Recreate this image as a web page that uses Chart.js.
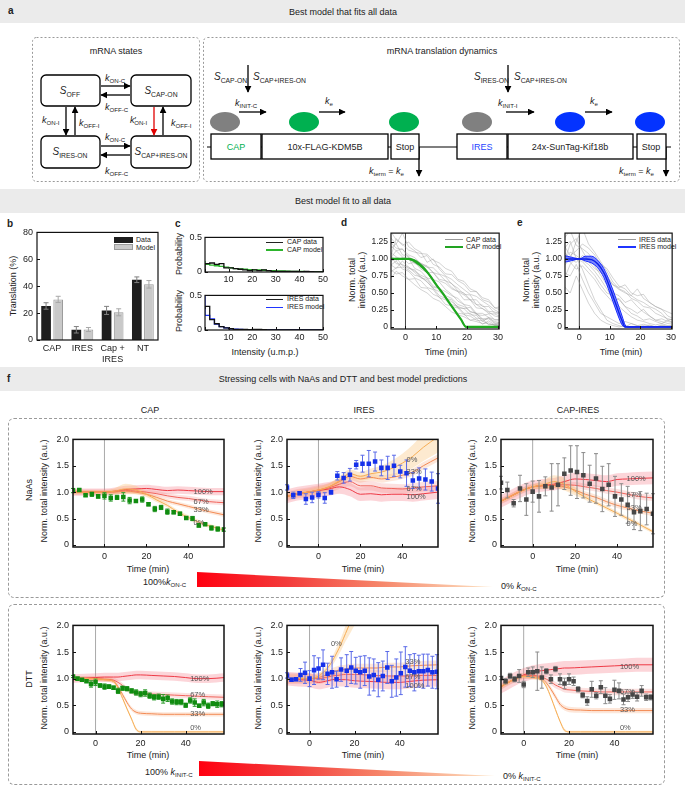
<!DOCTYPE html>
<html><head><meta charset="utf-8">
<script src="https://cdn.jsdelivr.net/npm/chart.js@4.4.1/dist/chart.umd.min.js"></script>
<style>
html,body{margin:0;padding:0}
body{width:685px;height:786px;position:relative;overflow:hidden;background:#fff;font-family:"Liberation Sans",Arial,sans-serif;font-size:9px;color:#222}
.t{position:absolute;white-space:nowrap;line-height:1.15}
.t sub{font-size:0.68em;vertical-align:-0.35em;line-height:0}
.hdr{position:absolute;left:0;width:685px;background:#ebebeb}
.dash{position:absolute;border:1px dashed #9a9a9a;border-radius:6px;box-sizing:border-box}
.wedge{position:absolute;background:linear-gradient(to right,#ff0010 0%,#f33a3a 30%,#f6866a 62%,#fde4c4 100%);clip-path:polygon(0 0,100% 100%,0 100%)}
.lg{position:absolute}
</style></head><body>
<div class="hdr" style="top:0;height:23px"></div>
<div class="hdr" style="top:189px;height:24px"></div>
<div class="hdr" style="top:367px;height:24px"></div>
<div class="dash" style="left:8px;top:418px;width:657px;height:180px"></div>
<div class="dash" style="left:8px;top:604px;width:657px;height:181px"></div>
<div class="wedge" style="left:197px;top:572px;width:296px;height:15px"></div>
<div class="wedge" style="left:199px;top:761px;width:296px;height:15px"></div>
<svg width="685" height="190" style="position:absolute;left:0;top:0" xmlns="http://www.w3.org/2000/svg">
<defs>
<marker id="ah" viewBox="0 0 10 10" refX="9" refY="5" markerWidth="7" markerHeight="7" orient="auto" markerUnits="userSpaceOnUse"><path d="M0,0 L10,5 L0,10 z" fill="#000"/></marker>
<marker id="ahr" viewBox="0 0 10 10" refX="9" refY="5" markerWidth="7" markerHeight="7" orient="auto" markerUnits="userSpaceOnUse"><path d="M0,0 L10,5 L0,10 z" fill="#e00000"/></marker>
</defs>
<rect x="32.5" y="37.5" width="167" height="144" rx="4" fill="none" stroke="#9a9a9a" stroke-dasharray="2,2"/>
<rect x="203.5" y="37.5" width="476" height="144" rx="4" fill="none" stroke="#9a9a9a" stroke-dasharray="2,2"/>
<g fill="none" stroke="#000" stroke-width="1.3">
<rect x="41" y="75" width="59" height="31" rx="5"/>
<rect x="131" y="75" width="60" height="31" rx="5"/>
<rect x="41" y="136" width="59" height="32" rx="5"/>
<rect x="131" y="136" width="60" height="32" rx="5"/>
</g>
<g stroke="#000" stroke-width="1.3" marker-end="url(#ah)">
<line x1="101" y1="86" x2="130" y2="86"/>
<line x1="130" y1="95" x2="101" y2="95"/>
<line x1="101" y1="146" x2="130" y2="146"/>
<line x1="130" y1="155" x2="101" y2="155"/>
<line x1="66" y1="107" x2="66" y2="135"/>
<line x1="75" y1="135" x2="75" y2="107"/>
<line x1="163" y1="135" x2="163" y2="107"/>
<line x1="248" y1="65" x2="248" y2="92"/>
<line x1="508" y1="65" x2="508" y2="92"/>
<line x1="239" y1="112" x2="266" y2="112"/>
<line x1="319" y1="112" x2="345" y2="112"/>
<line x1="506" y1="112" x2="534" y2="112"/>
<line x1="585" y1="112" x2="612" y2="112"/>
<line x1="419" y1="147" x2="419" y2="176"/>
<line x1="666" y1="147" x2="666" y2="176"/>
</g>
<line x1="154" y1="107" x2="154" y2="135" stroke="#e00000" stroke-width="1.3" marker-end="url(#ahr)"/>
<line x1="207" y1="147" x2="671" y2="147" stroke="#000" stroke-width="1.2"/>
<g fill="#fff" stroke="#000" stroke-width="1.3">
<rect x="211" y="134" width="50" height="25"/>
<rect x="262" y="134" width="126" height="25"/>
<rect x="391" y="134" width="28" height="25"/>
<rect x="457" y="134" width="50" height="25"/>
<rect x="508" y="134" width="125" height="25"/>
<rect x="637" y="134" width="29" height="25"/>
</g>
<ellipse cx="225" cy="122" rx="15" ry="10" fill="#808080"/>
<ellipse cx="304" cy="122" rx="15" ry="10" fill="#00b050"/>
<ellipse cx="404" cy="122" rx="15" ry="10" fill="#00b050"/>
<ellipse cx="477" cy="122" rx="15" ry="10" fill="#808080"/>
<ellipse cx="570" cy="122" rx="15" ry="10" fill="#0433ff"/>
<ellipse cx="650" cy="122" rx="15" ry="10" fill="#0433ff"/>
</svg>
<script>
// ---------------- DATA ----------------
// b: translation percentages
const bCats = ['CAP', 'IRES', ['Cap +', 'IRES'], 'NT'];
const bData = [25.3, 7.6, 22.0, 44.8];
const bDataErr = [2.4, 2.4, 3.0, 2.1];
const bModel = [30.2, 7.8, 20.6, 41.4];
const bModelErr = [2.3, 1.5, 2.6, 2.8];

// c: intensity histograms (bin edges, probabilities per bin)
const cEdges = [0,2,4,6,8,10,12,14,16,18,20,22,24,26,28,30,32,34,36,38,40,42,44,46,48,50];
const capHistData = [0.04,0.12,0.13,0.11,0.12,0.06,0.06,0.05,0.04,0.03,0.02,0.03,0.02,0.03,0.02,0.01,0.01,0.01,0.01,0.01,0.01,0.005,0.01,0.005,0.0];
const capHistModel = [0.16,0.11,0.10,0.09,0.08,0.07,0.06,0.05,0.045,0.04,0.035,0.03,0.03,0.025,0.02,0.02,0.015,0.015,0.012,0.01,0.01,0.008,0.006,0.005,0.004];
const iresHistData = [0.30,0.34,0.15,0.09,0.05,0.03,0.02,0.01,0.01,0.01,0.005,0.01,0.01,0.005,0,0,0,0,0,0,0,0,0,0,0];
const iresHistModel = [0.50,0.21,0.16,0.085,0.05,0.03,0.018,0.012,0.008,0.006,0.005,0.004,0.003,0.002,0.002,0.001,0.001,0.001,0,0,0,0,0,0,0];

// d, e: single-mRNA traces (time points and normalized intensities)
const trX = [-5,-3,-1,1,3,5,7,9,11,13,15,17,19,21,23,25,27,29,31];
const capTraces = [
 [1.05,0.98,1.02,0.93,0.95,0.85,0.80,0.70,0.66,0.55,0.48,0.38,0.33,0.22,0.20,0.12,0.13,0.08,0.06],
 [1.20,1.12,1.15,1.02,0.98,0.92,0.88,0.80,0.70,0.68,0.58,0.52,0.47,0.40,0.33,0.27,0.22,0.16,0.14],
 [0.90,0.97,0.85,0.82,0.72,0.68,0.58,0.55,0.43,0.40,0.30,0.28,0.18,0.16,0.10,0.09,0.04,0.03,0.02],
 [1.32,1.22,1.38,1.18,1.12,1.02,1.05,0.92,0.88,0.78,0.77,0.68,0.63,0.52,0.52,0.40,0.37,0.28,0.25],
 [0.95,1.02,0.90,0.88,0.80,0.72,0.70,0.58,0.57,0.42,0.40,0.28,0.27,0.29,0.18,0.17,0.19,0.10,0.12],
 [1.10,1.03,0.99,1.01,0.86,0.82,0.72,0.70,0.56,0.52,0.46,0.42,0.33,0.31,0.20,0.20,0.14,0.11,0.09],
 [0.85,0.78,0.80,0.70,0.71,0.58,0.57,0.48,0.44,0.33,0.31,0.20,0.19,0.10,0.12,0.04,0.09,0.03,0.05],
 [1.00,1.12,1.03,1.00,0.93,0.92,0.80,0.80,0.68,0.64,0.56,0.52,0.40,0.40,0.28,0.27,0.20,0.19,0.15],
 [1.15,1.22,1.06,1.04,0.96,0.94,0.88,0.87,0.78,0.74,0.63,0.57,0.48,0.47,0.33,0.32,0.23,0.22,0.18],
 [0.92,0.86,0.97,0.88,0.82,0.76,0.72,0.60,0.57,0.46,0.42,0.33,0.30,0.23,0.20,0.10,0.12,0.05,0.07],
 [1.42,1.28,1.22,1.13,1.10,1.08,1.07,0.98,0.94,0.86,0.82,0.70,0.67,0.56,0.52,0.43,0.40,0.28,0.30],
 [1.05,0.93,0.92,0.86,0.84,0.73,0.67,0.56,0.52,0.43,0.37,0.30,0.27,0.18,0.17,0.08,0.14,0.06,0.04],
 [0.80,0.87,0.88,0.84,0.76,0.74,0.66,0.57,0.46,0.42,0.33,0.30,0.20,0.20,0.13,0.12,0.03,0.04,0.01],
 [1.25,1.16,1.14,1.06,1.02,0.93,0.90,0.80,0.77,0.68,0.64,0.53,0.50,0.40,0.40,0.30,0.30,0.20,0.22],
 [1.00,1.30,1.20,1.25,1.15,1.10,0.95,1.00,0.85,0.75,0.70,0.62,0.55,0.48,0.45,0.38,0.32,0.25,0.20],
 [0.70,0.82,0.75,0.70,0.62,0.55,0.50,0.42,0.38,0.30,0.22,0.18,0.15,0.10,0.08,0.05,0.06,0.02,0.03]
];
const iresTraces = [
 [1.00,1.10,1.05,0.98,0.92,0.82,0.70,0.56,0.42,0.30,0.22,0.15,0.10,0.08,0.05,0.03,0.05,0.02,0.02],
 [1.30,1.42,1.20,1.15,1.08,0.96,0.86,0.72,0.62,0.55,0.50,0.46,0.56,0.42,0.36,0.30,0.26,0.22,0.18],
 [0.70,0.92,1.02,0.85,0.62,0.40,0.25,0.10,0.05,0.02,0.00,0.05,0.02,0.00,0.03,0.00,0.02,0.00,0.01],
 [1.10,1.00,0.95,1.05,1.00,0.90,0.76,0.62,0.50,0.46,0.36,0.40,0.30,0.22,0.16,0.10,0.12,0.08,0.06],
 [0.95,1.22,1.30,1.12,0.96,0.86,0.80,0.76,0.62,0.58,0.62,0.50,0.46,0.48,0.36,0.30,0.26,0.16,0.12],
 [0.80,0.75,0.92,0.70,0.50,0.35,0.20,0.15,0.10,0.05,0.08,0.05,0.02,0.04,0.02,0.00,0.03,0.01,0.02],
 [1.20,1.05,1.12,1.22,1.16,1.06,0.92,0.86,0.72,0.60,0.56,0.46,0.40,0.36,0.30,0.26,0.20,0.10,0.12],
 [1.05,0.95,0.85,0.90,0.80,0.70,0.56,0.46,0.36,0.42,0.30,0.26,0.20,0.26,0.16,0.10,0.08,0.05,0.04],
 [0.90,1.00,1.26,1.45,1.22,1.10,0.96,0.82,0.66,0.56,0.52,0.42,0.38,0.30,0.28,0.20,0.16,0.12,0.10],
 [1.15,1.26,1.00,0.96,0.86,0.76,0.62,0.50,0.46,0.40,0.30,0.20,0.16,0.10,0.12,0.08,0.05,0.10,0.06],
 [0.60,0.50,0.75,0.55,0.35,0.20,0.10,0.05,0.02,0.00,0.02,0.00,0.00,0.02,0.00,0.00,0.01,0.00,0.00]
];
// d: CAP model (center and band half width)
const gX = [-5,-4,-2,0,1,2,3,4,5,6,7,8,10,12,14,16,18,19.7,22,26,31];
const gY = [1,1,1,1,1,0.99,0.97,0.94,0.90,0.86,0.81,0.75,0.62,0.50,0.37,0.24,0.11,0,0,0,0];
const gH = [0.005,0.005,0.005,0.005,0.01,0.015,0.025,0.03,0.03,0.03,0.025,0.02,0.015,0.012,0.01,0.01,0.01,0.005,0.005,0.005,0.005];
// e: IRES model (upper, middle, lower curves)
const bX = [-5,-4,-2,0,2,4,6,8,10,12,14,15,16,20,25,31];
const bUp = [1.05,1.04,1.02,1.00,1.04,1.04,0.98,0.86,0.66,0.42,0.16,0.03,0,0,0,0];
const bMid = [1.00,1.00,1.00,1.00,1.00,0.99,0.93,0.80,0.58,0.33,0.09,0,0,0,0,0];
const bLo = [0.95,0.96,0.98,1.00,0.97,0.94,0.87,0.73,0.50,0.25,0.03,0,0,0,0,0];

// f: model prediction grids
const fx1 = [-15,-10,-5,0,5,10,15,20,25,30,35,40,45,50,57];
const fx2 = [-10,-5,0,4,8,10,12,14,16,18,20,25,30,35,40,45,50,57];
const pctLabels = ['100%','67%','33%','0%'];
// NaAs CAP
const na1_100 = [1.00,1.00,1.00,1.00,1.02,1.05,1.06,1.07,1.05,1.03,1.04,1.03,1.02,1.01,1.01];
const na1_67 = [1.00,1.00,1.00,1.00,1.01,1.03,1.02,1.00,0.97,0.93,0.90,0.88,0.85,0.82,0.80];
const na1_33 = [1.00,1.00,1.00,1.00,1.00,1.02,1.00,0.96,0.90,0.83,0.78,0.73,0.68,0.63,0.57];
const na1_0 = [1.00,1.00,1.00,1.00,1.02,1.06,1.04,0.96,0.85,0.75,0.62,0.52,0.43,0.36,0.28];
const na1_h = [[0.07,0.07,0.07,0.07,0.07,0.07,0.07,0.07,0.07,0.07,0.07,0.07,0.07,0.07,0.07],
 [0.05,0.05,0.05,0.05,0.05,0.05,0.05,0.05,0.05,0.05,0.05,0.05,0.05,0.05,0.05],
 [0.04,0.04,0.04,0.04,0.04,0.04,0.04,0.04,0.04,0.04,0.04,0.04,0.04,0.04,0.04],
 [0.03,0.03,0.03,0.03,0.06,0.10,0.08,0.05,0.04,0.04,0.04,0.04,0.04,0.04,0.04]];
const naCapX = [-15,-12,-9,-6,-3,0,3,6,9,12,15,18,21,24,27,30,33,36,39,42,45,48,51,54,57];
const naCapY = [1.03,1.04,0.94,0.96,0.92,0.93,0.89,0.90,0.91,0.84,0.83,0.86,0.77,0.68,0.71,0.63,0.62,0.59,0.51,0.50,0.37,0.39,0.32,0.30,0.29];
const naCapE = [0.04,0.02,0.02,0.04,0.03,0.06,0.06,0.04,0.08,0.06,0.02,0.05,0.03,0.05,0.04,0.05,0.03,0.03,0.02,0.04,0.03,0.02,0.04,0.04,0.03];
const naCapLab = [[42.5,1.00],[42.5,0.81],[42.5,0.66],[42.5,0.42]];
// NaAs IRES
const na2_100 = [0.92,0.97,1.00,1.03,1.06,1.10,1.05,0.96,0.97,0.95,0.96,0.96,0.95,0.97,1.00];
const na2_67 = [0.92,0.97,1.00,1.04,1.08,1.15,1.20,1.12,1.12,1.08,1.07,1.06,1.08,1.10,1.12];
const na2_33 = [0.92,0.97,1.00,1.04,1.10,1.20,1.30,1.25,1.28,1.25,1.28,1.32,1.38,1.50,1.65];
const na2_0 = [0.92,0.97,1.00,1.04,1.10,1.22,1.35,1.30,1.35,1.38,1.45,1.55,1.68,1.85,2.05];
const na2_h = [[0.13,0.13,0.13,0.13,0.13,0.13,0.13,0.13,0.13,0.13,0.13,0.13,0.13,0.13,0.13],
 [0.09,0.09,0.09,0.09,0.09,0.09,0.09,0.09,0.09,0.09,0.09,0.09,0.09,0.09,0.09],
 [0.07,0.07,0.07,0.07,0.07,0.07,0.07,0.07,0.07,0.07,0.07,0.07,0.07,0.07,0.07],
 [0.04,0.04,0.04,0.05,0.06,0.08,0.08,0.08,0.10,0.12,0.15,0.18,0.22,0.26,0.30]];
const naIresX = [-15,-12,-9,-6,-3,0,3,6,9,12,15,18,21,24,27,30,33,36,39,42,45,48,51,54,57];
const naIresY = [1.09,0.94,0.98,0.87,0.90,0.95,0.89,1.00,1.31,1.27,1.33,1.52,1.54,1.54,1.58,1.46,1.46,1.50,1.39,1.36,1.22,1.26,1.24,1.20,1.07];
const naIresE = [0.05,0.06,0.03,0.10,0.10,0.06,0.10,0.04,0.08,0.10,0.12,0.08,0.16,0.25,0.18,0.15,0.22,0.20,0.12,0.25,0.15,0.20,0.20,0.18,0.28];
const naIresLab = [[42,0.90],[42,1.06],[42,1.39],[42,1.61]];
// NaAs CAP-IRES
const na3_100 = [0.83,0.93,1.03,1.10,1.13,1.15,1.20,1.25,1.24,1.22,1.20,1.24,1.25,1.26,1.27];
const na3_67 = [0.83,0.93,1.03,1.10,1.12,1.13,1.14,1.13,1.10,1.07,1.03,1.00,0.96,0.92,0.89];
const na3_33 = [0.83,0.93,1.03,1.10,1.12,1.13,1.10,1.04,0.96,0.90,0.82,0.75,0.70,0.65,0.60];
const na3_0 = [0.83,0.93,1.03,1.10,1.14,1.20,1.15,1.02,0.90,0.80,0.70,0.60,0.50,0.40,0.25];
const na3_h = [[0.12,0.12,0.12,0.12,0.12,0.12,0.12,0.12,0.12,0.12,0.12,0.12,0.12,0.12,0.12],
 [0.06,0.06,0.06,0.06,0.06,0.06,0.06,0.06,0.06,0.06,0.06,0.06,0.06,0.06,0.06],
 [0.05,0.05,0.05,0.05,0.05,0.05,0.05,0.05,0.05,0.05,0.05,0.05,0.05,0.05,0.05],
 [0.03,0.03,0.03,0.04,0.08,0.12,0.12,0.08,0.05,0.04,0.04,0.04,0.04,0.04,0.03]];
const naCiX = [-15,-12,-9,-6,-3,0,3,6,9,12,15,18,21,24,27,30,33,36,39,42,45,48,51,54,57];
const naCiY = [1.18,1.04,0.79,1.07,0.86,1.01,0.92,1.11,1.09,1.14,1.35,1.41,1.38,1.32,1.16,1.26,1.06,1.14,0.92,0.86,0.76,0.62,0.64,0.68,0.59];
const naCiE = [0.12,0.15,0.07,0.25,0.30,0.20,0.30,0.18,0.45,0.40,0.30,0.47,0.50,0.43,0.35,0.47,0.43,0.40,0.38,0.30,0.35,0.33,0.37,0.30,0.38];
const naCiLab = [[44.5,1.25],[44.5,0.95],[44.5,0.70],[44.5,0.40]];
// DTT CAP
const dt1_100 = [1.00,1.01,1.02,1.03,1.03,1.03,1.04,1.05,1.06,1.07,1.07,1.06,1.05,1.04,1.02,1.00,1.00,1.02];
const dt1_67 = [1.00,1.00,1.00,0.99,0.97,0.93,0.87,0.80,0.76,0.73,0.72,0.71,0.70,0.69,0.68,0.67,0.66,0.65];
const dt1_33 = [1.00,1.00,1.00,0.98,0.95,0.85,0.70,0.55,0.43,0.37,0.35,0.34,0.33,0.33,0.33,0.33,0.33,0.33];
const dt1_0 = [1.00,1.00,1.00,0.98,0.95,0.82,0.63,0.43,0.24,0.05,0.00,0.00,0.00,0.00,0.00,0.00,0.00,0.00];
const dt1_h = [[0.08,0.08,0.08,0.08,0.08,0.08,0.08,0.08,0.08,0.08,0.08,0.08,0.08,0.08,0.08,0.08,0.08,0.08],
 [0.05,0.05,0.05,0.05,0.05,0.05,0.05,0.05,0.05,0.05,0.05,0.05,0.05,0.05,0.05,0.05,0.05,0.05],
 [0.04,0.04,0.04,0.04,0.04,0.04,0.04,0.04,0.04,0.04,0.04,0.04,0.04,0.04,0.04,0.04,0.04,0.04],
 [0.03,0.03,0.03,0.03,0.03,0.03,0.03,0.03,0.03,0.03,0.02,0.02,0.02,0.02,0.02,0.02,0.02,0.02]];
const dtCapX = [-10,-8,-6,-4,-2,0,2,4,6,8,10,12,14,16,18,20,22,24,26,28,30,32,34,36,38,40,42,44,46,48,50,52,54,56];
const dtCapY = [1.04,1.00,0.98,0.95,0.90,0.93,0.87,0.85,0.85,0.83,0.77,0.82,0.81,0.77,0.74,0.71,0.73,0.68,0.65,0.66,0.62,0.63,0.57,0.56,0.56,0.50,0.59,0.55,0.49,0.55,0.49,0.53,0.52,0.52];
const dtCapE = [0.02,0.02,0.02,0.02,0.06,0.06,0.03,0.05,0.03,0.03,0.05,0.04,0.04,0.04,0.05,0.05,0.06,0.05,0.05,0.05,0.08,0.06,0.05,0.05,0.05,0.04,0.05,0.07,0.03,0.06,0.05,0.04,0.06,0.05];
const dtCapLab = [[42,0.99],[42,0.69],[42,0.34],[42,0.08]];
// DTT IRES
const dt2_100 = [1.00,0.98,0.97,0.93,0.96,0.98,0.99,0.98,0.98,0.97,0.96,0.95,0.94,0.93,0.93,0.95,0.97,0.98];
const dt2_67 = [1.00,1.00,1.00,1.00,1.03,1.05,1.06,1.07,1.08,1.08,1.08,1.07,1.06,1.05,1.05,1.05,1.06,1.06];
const dt2_33 = [1.00,1.00,1.00,1.02,1.08,1.12,1.15,1.17,1.18,1.20,1.20,1.20,1.20,1.22,1.22,1.24,1.25,1.26];
const dt2_0 = [1.00,1.00,1.00,1.05,1.20,1.32,1.48,1.65,1.85,2.05,2.25,2.50,2.50,2.50,2.50,2.50,2.50,2.50];
const dt2_h = [[0.13,0.13,0.13,0.13,0.13,0.13,0.13,0.13,0.13,0.13,0.13,0.13,0.13,0.13,0.13,0.13,0.13,0.13],
 [0.10,0.10,0.10,0.10,0.10,0.10,0.10,0.10,0.10,0.10,0.10,0.10,0.10,0.10,0.10,0.10,0.10,0.10],
 [0.08,0.08,0.08,0.08,0.08,0.08,0.08,0.08,0.08,0.08,0.08,0.08,0.08,0.08,0.08,0.08,0.08,0.08],
 [0.03,0.03,0.03,0.04,0.06,0.08,0.10,0.12,0.15,0.20,0.25,0.25,0.25,0.25,0.25,0.25,0.25,0.25]];
const dtIresX = [-10,-8,-6,-4,-2,0,2,4,6,8,10,12,14,16.5,18.5,20.5,22.5,24.5,26.5,28.5,30.5,32.5,34.5,36.5,38.5,40.5,42.5,44.5,46.5,48.5,50.5,52.5,54.5,56.5];
const dtIresY = [1.06,0.98,0.99,1.07,1.11,1.00,1.16,1.19,1.26,1.09,1.12,0.99,1.17,1.15,1.21,1.15,1.12,1.15,1.04,1.07,0.98,1.05,1.21,0.95,1.02,1.10,1.22,1.15,1.12,1.14,1.14,1.16,1.12,1.13];
const dtIresE = [0.05,0.03,0.03,0.12,0.20,0.15,0.27,0.20,0.28,0.20,0.30,0.15,0.22,0.30,0.30,0.25,0.30,0.28,0.35,0.30,0.32,0.28,0.30,0.30,0.35,0.40,0.38,0.30,0.35,0.30,0.32,0.30,0.30,0.32];
const dtIresLab = [[42.5,0.87],[42.5,1.04],[42.5,1.31],[9.5,1.65]];
// DTT CAP-IRES
const dt3_100 = [0.85,0.97,1.07,1.12,1.15,1.16,1.17,1.18,1.19,1.20,1.20,1.21,1.22,1.23,1.24,1.25,1.26,1.26];
const dt3_67 = [0.85,0.97,1.05,1.06,1.03,0.99,0.94,0.88,0.84,0.80,0.79,0.77,0.76,0.75,0.75,0.75,0.75,0.75];
const dt3_33 = [0.85,0.97,1.05,1.04,1.00,0.92,0.80,0.66,0.52,0.45,0.42,0.41,0.40,0.40,0.40,0.40,0.40,0.40];
const dt3_0 = [0.85,0.97,1.04,1.02,0.97,0.85,0.65,0.42,0.20,0.03,0.00,0.00,0.00,0.00,0.00,0.00,0.00,0.00];
const dt3_h = [[0.13,0.13,0.13,0.13,0.13,0.13,0.13,0.13,0.13,0.13,0.13,0.13,0.13,0.13,0.13,0.13,0.13,0.13],
 [0.06,0.06,0.06,0.06,0.06,0.06,0.06,0.06,0.06,0.06,0.06,0.06,0.06,0.06,0.06,0.06,0.06,0.06],
 [0.05,0.05,0.05,0.05,0.05,0.05,0.05,0.05,0.05,0.05,0.05,0.05,0.05,0.05,0.05,0.05,0.05,0.05],
 [0.03,0.03,0.03,0.03,0.03,0.03,0.03,0.03,0.03,0.03,0.02,0.02,0.02,0.02,0.02,0.02,0.02,0.02]];
const dtCiX = [-10,-8,-6,-4,-2,0,2,4,6,8,10,12,14,16,18,20,22,24,26,28,30,32,34,36,38,40,42,44,46,48,50,52,54,56];
const dtCiY = [1.01,0.95,1.05,0.99,1.05,0.89,1.12,1.12,1.14,1.02,1.14,0.99,1.18,0.99,0.91,0.99,0.95,0.80,0.69,0.58,0.80,0.68,0.84,0.68,0.62,0.79,0.77,0.61,0.65,0.70,0.66,0.77,0.65,0.65];
const dtCiE = [0.03,0.05,0.05,0.05,0.12,0.06,0.08,0.10,0.36,0.20,0.05,0.08,0.05,0.10,0.10,0.10,0.08,0.05,0.05,0.08,0.15,0.06,0.12,0.15,0.08,0.18,0.15,0.10,0.08,0.07,0.08,0.10,0.06,0.05];
const dtCiLab = [[42.4,1.22],[42.4,0.75],[42.4,0.41],[42.4,0.08]];

// ---------------- TEXT HELPERS ----------------
function T(x, y, h, o) {
  o = o || {};
  const d = document.createElement('div'); d.className = 't'; d.innerHTML = h;
  const a = o.a || 'c'; const tx = a === 'c' ? '-50%' : (a === 'r' ? '-100%' : '0');
  d.style.left = x + 'px'; d.style.top = y + 'px';
  d.style.transform = 'translate(' + tx + ',-50%)' + (o.rot ? ' rotate(-90deg)' : '');
  if (o.fs) d.style.fontSize = o.fs + 'px';
  if (o.c) d.style.color = o.c;
  if (o.b) d.style.fontWeight = 'bold';
  if (o.ta) d.style.textAlign = o.ta;
  document.body.appendChild(d);
}
function box(l, t, w, h, bg, br) {
  const d = document.createElement('div'); d.className = 'lg';
  d.style.cssText = 'position:absolute;left:' + l + 'px;top:' + t + 'px;width:' + w + 'px;height:' + h + 'px;background:' + bg + ';' + (br ? 'box-sizing:border-box;border:1px solid ' + br : '');
  document.body.appendChild(d);
}
const S = (b, s) => '<i>' + b + '</i><sub>' + s + '</sub>';

// headers and panel letters
T(8, 11, 'a', {a: 'l', b: true, fs: 10});
T(343, 12, 'Best model that fits all data');
T(343, 201, 'Best model fit to all data');
T(343, 379, 'Stressing cells with NaAs and DTT and best model predictions');
T(7, 224, 'b', {a: 'l', b: true, fs: 10});
T(175, 224, 'c', {a: 'l', b: true, fs: 10});
T(341, 223, 'd', {a: 'l', b: true, fs: 10});
T(517, 223, 'e', {a: 'l', b: true, fs: 10});
T(7, 379, 'f', {a: 'l', b: true, fs: 10});

// schematic text
T(116, 51, 'mRNA states');
T(70, 91, S('S', 'OFF'), {fs: 10});
T(161, 91, S('S', 'CAP-ON'), {fs: 10});
T(70, 152, S('S', 'IRES-ON'), {fs: 10});
T(161, 152, S('S', 'CAP+IRES-ON'), {fs: 10});
T(105, 78, S('k', 'ON-C'), {a: 'l'});
T(105, 107, S('k', 'OFF-C'), {a: 'l'});
T(105, 137, S('k', 'ON-C'), {a: 'l'});
T(105, 171, S('k', 'OFF-C'), {a: 'l'});
T(42, 120, S('k', 'ON-I'), {a: 'l'});
T(79, 123, S('k', 'OFF-I'), {a: 'l'});
T(130, 120, '<i>k</i>\u2032<sub style="margin-left:-2px">ON-I</sub>', {a: 'l'});
T(171, 123, S('k', 'OFF-I'), {a: 'l'});
T(442, 51, 'mRNA translation dynamics');
T(214, 77, S('S', 'CAP-ON'), {a: 'l', fs: 10});
T(253, 77, S('S', 'CAP+IRES-ON'), {a: 'l', fs: 10});
T(474, 77, S('S', 'IRES-ON'), {a: 'l', fs: 10});
T(514, 77, S('S', 'CAP+IRES-ON'), {a: 'l', fs: 10});
T(235, 103, S('k', 'INIT-C'), {a: 'l'});
T(325, 101, S('k', 'e'), {a: 'l'});
T(498, 103, S('k', 'INIT-I'), {a: 'l'});
T(590, 101, S('k', 'e'), {a: 'l'});
T(236, 147, 'CAP', {c: '#00b050'});
T(325, 147, '10x-FLAG-KDM5B');
T(405, 147, 'Stop');
T(482, 147, 'IRES', {c: '#1f45ff'});
T(570, 147, '24x-SunTag-Kif18b');
T(651, 147, 'Stop');
T(369, 171, S('k', 'term') + ' = ' + S('k', 'e'), {a: 'l'});
T(619, 171, S('k', 'term') + ' = ' + S('k', 'e'), {a: 'l'});

// b/c/d/e text
T(13, 286, 'Translation (%)', {rot: true});
box(114, 237, 19, 6, '#1e1e1e');
box(114, 244, 19, 6, '#c9c9c9', '#9b9b9b');
T(136, 240, 'Data', {a: 'l', fs: 7});
T(136, 248, 'Model', {a: 'l', fs: 7});
T(179, 254, 'Probability', {rot: true});
T(179, 311, 'Probability', {rot: true});
box(266, 241.5, 17, 1.5, '#222');
box(266, 249, 17, 1.5, '#2db52d');
T(287, 242, 'CAP data', {a: 'l', fs: 7});
T(287, 250, 'CAP model', {a: 'l', fs: 7});
box(266, 298.5, 17, 1.5, '#222');
box(266, 306.5, 17, 1.5, '#1f35ff');
T(287, 299, 'IRES data', {a: 'l', fs: 7});
T(287, 307, 'IRES model', {a: 'l', fs: 7});
T(265, 352, 'Intensity (u.m.p.)');
T(357, 280, 'Norm. total<br>intensity (a.u.)', {rot: true, ta: 'center'});
T(531, 280, 'Norm. total<br>intensity (a.u.)', {rot: true, ta: 'center'});
box(445, 239, 18, 0.8, '#9a9a9a');
box(445, 245.5, 18, 2.5, '#22a322');
T(466, 240, 'CAP data', {a: 'l', fs: 7});
T(466, 247, 'CAP model', {a: 'l', fs: 7});
box(618, 239, 18, 0.8, '#9a9a9a');
box(618, 245.5, 18, 2.5, '#1f35ff');
T(639, 240, 'IRES data', {a: 'l', fs: 7});
T(639, 247, 'IRES model', {a: 'l', fs: 7});
T(446, 352, 'Time (min)');
T(621, 352, 'Time (min)');

// f text
T(150, 410, 'CAP'); T(364, 410, 'IRES'); T(578, 410, 'CAP-IRES');
T(29, 490, 'NaAs', {rot: true});
T(29, 679, 'DTT', {rot: true});
[44, 258, 472].forEach(x => { T(x, 491, 'Norm. total intensity (a.u.)', {rot: true}); T(x, 678, 'Norm. total intensity (a.u.)', {rot: true}); });
[148, 363, 577].forEach(x => { T(x, 569, 'Time (min)'); T(x, 755, 'Time (min)'); });
T(143, 582, '100%' + S('k', 'ON-C'), {a: 'l'});
T(501, 586, '0% ' + S('k', 'ON-C'), {a: 'l'});
T(145, 772, '100% ' + S('k', 'INIT-C'), {a: 'l'});
T(503, 776, '0% ' + S('k', 'INIT-C'), {a: 'l'});

// ---------------- CHART HELPERS ----------------
Chart.defaults.font.family = "'Liberation Sans', Arial, sans-serif";
Chart.defaults.font.size = 9;
Chart.defaults.color = '#222';

function drawErr(chart, ds, meta) {
  const ctx = chart.ctx, ys = chart.scales.y;
  ctx.save(); ctx.strokeStyle = ds.errColor; ctx.lineWidth = ds.errWidth || 1;
  meta.data.forEach((el, j) => {
    const d = ds.data[j]; const v = (typeof d === 'object') ? d.y : d; const e = ds.errs[j];
    const y1 = ys.getPixelForValue(v + e), y2 = ys.getPixelForValue(v - e); const cw = ds.capW || 2;
    ctx.beginPath(); ctx.moveTo(el.x, y1); ctx.lineTo(el.x, y2);
    ctx.moveTo(el.x - cw, y1); ctx.lineTo(el.x + cw, y1); ctx.moveTo(el.x - cw, y2); ctx.lineTo(el.x + cw, y2); ctx.stroke();
  });
  ctx.restore();
}
function mkHelper(o) {
  return {
    id: 'helper',
    beforeDatasetsDraw(chart) {
      if (o.zero === undefined) return;
      const a = chart.chartArea, ctx = chart.ctx; const x = chart.scales.x.getPixelForValue(o.zero);
      ctx.save(); ctx.strokeStyle = o.zeroColor || '#aaa'; ctx.lineWidth = o.zeroW || 1;
      ctx.beginPath(); ctx.moveTo(x, a.top); ctx.lineTo(x, a.bottom); ctx.stroke(); ctx.restore();
    },
    beforeDatasetDraw(chart, args) { const ds = chart.data.datasets[args.index]; if (ds.errs && !ds.errAfter) drawErr(chart, ds, args.meta); },
    afterDatasetDraw(chart, args) { const ds = chart.data.datasets[args.index]; if (ds.errs && ds.errAfter) drawErr(chart, ds, args.meta); },
    afterDraw(chart) {
      const ctx = chart.ctx, a = chart.chartArea, sx = chart.scales.x, sy = chart.scales.y;
      ctx.save();
      ctx.strokeStyle = '#111'; ctx.lineWidth = 1;
      if (o.tx) sx.ticks.forEach(t => { const x = Math.round(sx.getPixelForValue(t.value)) + 0.5; ctx.beginPath(); ctx.moveTo(x, a.bottom); ctx.lineTo(x, a.bottom - 3); ctx.stroke(); });
      if (o.ty) sy.ticks.forEach(t => { const y = Math.round(sy.getPixelForValue(t.value)) + 0.5; ctx.beginPath(); ctx.moveTo(a.left, y); ctx.lineTo(a.left + 3, y); ctx.stroke(); });
      if (o.labels) {
        ctx.fillStyle = '#555'; ctx.font = "7.5px 'Liberation Sans', Arial, sans-serif"; ctx.textBaseline = 'middle'; ctx.textAlign = 'left';
        o.labels.forEach(l => ctx.fillText(l[2], sx.getPixelForValue(l[0]), sy.getPixelForValue(l[1])));
      }
      ctx.lineWidth = o.fw || 1.5; ctx.strokeStyle = '#111';
      ctx.strokeRect(a.left, a.top, a.right - a.left, a.bottom - a.top);
      ctx.restore();
    }
  };
}
function ax(extra) {
  return Object.assign({grid: {display: false, drawTicks: false, tickLength: 0}, border: {display: false}}, extra);
}
function mkChart(plot, pad, cfg, hopts) {
  const W = plot.w + pad.l + pad.r, H = plot.h + pad.t + pad.b;
  const c = document.createElement('canvas');
  c.width = W; c.height = H;
  c.style.cssText = 'position:absolute;left:' + (plot.l - pad.l) + 'px;top:' + (plot.t - pad.t) + 'px;width:' + W + 'px;height:' + H + 'px';
  document.body.appendChild(c);
  const o = cfg.options;
  o.responsive = false; o.animation = false; o.events = []; o.devicePixelRatio = 1;
  o.layout = {autoPadding: false, padding: {top: pad.t, right: pad.r, left: 0, bottom: 0}};
  o.plugins = {legend: {display: false}, tooltip: {enabled: false}};
  o.scales.x.afterFit = s => { s.height = pad.b; };
  o.scales.y.afterFit = s => { s.width = pad.l; };
  cfg.plugins = [mkHelper(hopts || {})];
  return new Chart(c, cfg);
}
const xy = (xs, ys) => xs.map((x, i) => ({x: x, y: ys[i]}));
const xyOff = (xs, ys, hs, s) => xs.map((x, i) => ({x: x, y: ys[i] + s * hs[i]}));

// ---------------- PANEL b ----------------
mkChart({l: 37, t: 231, w: 121, h: 109}, {l: 37, t: 8, r: 6, b: 34}, {
  type: 'bar',
  data: {labels: bCats, datasets: [
    {data: bData, backgroundColor: '#1e1e1e', borderWidth: 0, errs: bDataErr, errColor: '#808080', errAfter: true, capW: 2.5, barPercentage: 0.8, categoryPercentage: 0.8},
    {data: bModel, backgroundColor: '#c9c9c9', borderColor: '#9b9b9b', borderWidth: 1, errs: bModelErr, errColor: '#a8a8a8', errAfter: true, capW: 2.5, barPercentage: 0.8, categoryPercentage: 0.8}
  ]},
  options: {scales: {
    x: ax({ticks: {padding: 3, color: '#222', font: {size: 9}, maxRotation: 0, minRotation: 0, autoSkip: false}}),
    y: ax({min: 0, max: 80, ticks: {stepSize: 20, padding: 4, color: '#222'}})
  }}
}, {ty: true, fw: 1.2});

// ---------------- PANEL c ----------------
function histChart(plot, dataV, modelV, modelCol) {
  mkChart(plot, {l: 30, t: 6, r: 8, b: 14}, {
    type: 'line',
    data: {datasets: [
      {data: xy(cEdges, cEdges.map((e, i) => dataV[Math.min(i, dataV.length - 1)])), stepped: 'after', borderColor: '#111', borderWidth: 1.3, pointRadius: 0, fill: false, order: 0},
      {data: xy(cEdges, cEdges.map((e, i) => modelV[Math.min(i, modelV.length - 1)])), stepped: 'after', borderColor: modelCol, borderWidth: 1.3, pointRadius: 0, fill: false, order: 1}
    ]},
    options: {scales: {
      x: ax({type: 'linear', min: 0, max: 50, ticks: {stepSize: 10, padding: 2, includeBounds: false, maxRotation: 0, callback: v => v === 0 ? '' : v}}),
      y: ax({min: 0, max: 0.5, ticks: {stepSize: 0.5, padding: 3, callback: v => v === 0 ? '0' : v.toFixed(1)}})
    }}
  }, {tx: true, ty: true, fw: 1.2});
}
histChart({l: 205, t: 235, w: 118, h: 37}, capHistData, capHistModel, '#2db52d');
histChart({l: 205, t: 293, w: 118, h: 37}, iresHistData, iresHistModel, '#1f35ff');

// ---------------- PANELS d, e ----------------
function traceChart(plot, traces, modelSets) {
  const ds = traces.map(tr => ({data: xy(trX, tr), borderColor: 'rgba(150,150,150,0.7)', borderWidth: 0.6, pointRadius: 0, fill: false, order: 20}));
  mkChart(plot, {l: 30, t: 6, r: 6, b: 16}, {
    type: 'line',
    data: {datasets: ds.concat(modelSets)},
    options: {scales: {
      x: ax({type: 'linear', min: -4.7, max: 30.4, ticks: {stepSize: 10, padding: 3, includeBounds: false, maxRotation: 0, font: {size: 9}}}),
      y: ax({min: -0.03, max: 1.38, ticks: {stepSize: 0.25, padding: 3, includeBounds: false, font: {size: 8.5}, callback: v => v === 0 ? '0' : v.toFixed(2)}})
    }}
  }, {tx: true, ty: true, zero: 0, zeroColor: '#444', zeroW: 1, fw: 1.2});
}
traceChart({l: 391, t: 231, w: 109, h: 98}, capTraces, [
  {data: xyOff(gX, gY, gH, -1), borderColor: 'rgba(0,0,0,0)', borderWidth: 0, pointRadius: 0, fill: false, order: 5, cubicInterpolationMode: 'monotone'},
  {data: xyOff(gX, gY, gH, 1), borderColor: 'rgba(0,0,0,0)', borderWidth: 0, pointRadius: 0, fill: '-1', backgroundColor: 'rgba(20,140,20,0.7)', order: 5, cubicInterpolationMode: 'monotone'},
  {data: xy(gX, gY), borderColor: '#1fa81f', borderWidth: 2.2, pointRadius: 0, fill: false, order: 1, cubicInterpolationMode: 'monotone'}
]);
traceChart({l: 565, t: 231, w: 108, h: 98}, iresTraces, [
  {data: xy(bX, bLo), borderColor: '#1a2cff', borderWidth: 1, pointRadius: 0, fill: false, order: 5, cubicInterpolationMode: 'monotone'},
  {data: xy(bX, bUp), borderColor: '#1a2cff', borderWidth: 1, pointRadius: 0, fill: '-1', backgroundColor: 'rgba(40,60,255,0.6)', order: 5, cubicInterpolationMode: 'monotone'},
  {data: xy(bX, bMid), borderColor: '#0a1ee8', borderWidth: 1.4, pointRadius: 0, fill: false, order: 1, cubicInterpolationMode: 'monotone'}
]);

// ---------------- PANEL f ----------------
const MCOL = [
  {line: '#ee3a46', band: 'rgba(243,105,118,0.28)'},
  {line: '#f0645c', band: 'rgba(243,120,112,0.22)'},
  {line: '#f38b55', band: 'rgba(246,160,108,0.25)'},
  {line: '#f6ad55', band: 'rgba(250,195,120,0.35)'}
];
function fChart(plot, xmin, xs, centers, halves, px, py, pe, ptCol, errCol, labPos) {
  const datasets = [];
  centers.forEach((c, k) => {
    const h = halves[k];
    datasets.push({data: xyOff(xs, c, h, -1), borderColor: 'rgba(0,0,0,0)', borderWidth: 0, pointRadius: 0, fill: false, order: 30 - k, cubicInterpolationMode: 'monotone'});
    datasets.push({data: xyOff(xs, c, h, 1), borderColor: 'rgba(0,0,0,0)', borderWidth: 0, pointRadius: 0, fill: '-1', backgroundColor: MCOL[k].band, order: 30 - k, cubicInterpolationMode: 'monotone'});
    datasets.push({data: xy(xs, c), borderColor: MCOL[k].line, borderWidth: 1, pointRadius: 0, fill: false, order: 10 - k, cubicInterpolationMode: 'monotone'});
  });
  datasets.push({type: 'scatter', data: xy(px, py), pointStyle: 'rect', pointRadius: 3.2, backgroundColor: ptCol, borderColor: ptCol, borderWidth: 0, errs: pe, errColor: errCol, capW: 2, order: 0});
  mkChart(plot, {l: 22, t: 6, r: 6, b: 16}, {
    type: 'line',
    data: {datasets: datasets},
    options: {scales: {
      x: ax({type: 'linear', min: xmin, max: 57, ticks: {stepSize: 20, padding: 4, includeBounds: false, maxRotation: 0}}),
      y: ax({min: -0.04, max: 2.0, ticks: {stepSize: 0.5, padding: 4, includeBounds: false, callback: v => v === 0 ? '0' : v.toFixed(1)}})
    }}
  }, {tx: true, ty: true, zero: 0, zeroColor: '#aaa', zeroW: 1, fw: 1.5, labels: labPos.map((p, i) => [p[0], p[1], pctLabels[i]])});
}
const GREEN = '#108c10', BLUE = '#1530ea', GRAY = '#474747';
fChart({l: 73, t: 436, w: 151, h: 111}, -15, fx1, [na1_100, na1_67, na1_33, na1_0], na1_h, naCapX, naCapY, naCapE, GREEN, '#2a9a2a', naCapLab);
fChart({l: 287, t: 436, w: 151, h: 111}, -15, fx1, [na2_100, na2_67, na2_33, na2_0], na2_h, naIresX, naIresY, naIresE, BLUE, '#5a6ae8', naIresLab);
fChart({l: 501, t: 436, w: 152, h: 111}, -15, fx1, [na3_100, na3_67, na3_33, na3_0], na3_h, naCiX, naCiY, naCiE, GRAY, '#8a8a8a', naCiLab);
fChart({l: 73, t: 622, w: 151, h: 112}, -10, fx2, [dt1_100, dt1_67, dt1_33, dt1_0], dt1_h, dtCapX, dtCapY, dtCapE, GREEN, '#2a9a2a', dtCapLab);
fChart({l: 287, t: 622, w: 151, h: 112}, -10, fx2, [dt2_100, dt2_67, dt2_33, dt2_0], dt2_h, dtIresX, dtIresY, dtIresE, BLUE, '#5a6ae8', dtIresLab);
fChart({l: 501, t: 622, w: 152, h: 112}, -10, fx2, [dt3_100, dt3_67, dt3_33, dt3_0], dt3_h, dtCiX, dtCiY, dtCiE, GRAY, '#8a8a8a', dtCiLab);
</script>
</body></html>
